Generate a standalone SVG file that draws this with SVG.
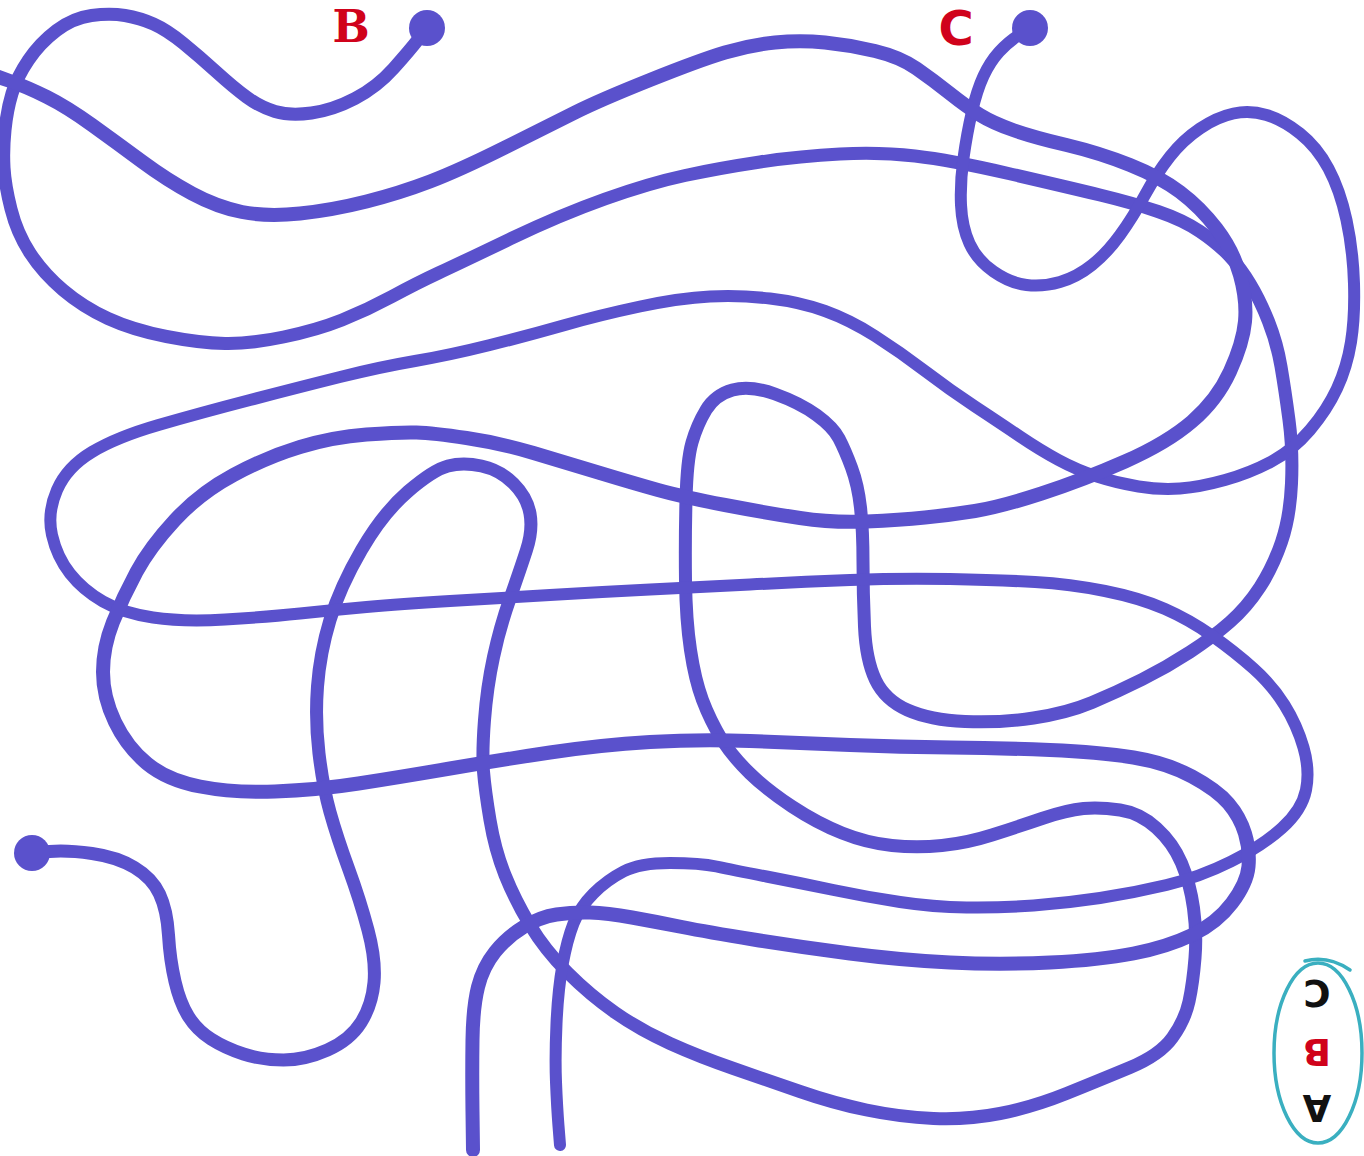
<svg xmlns="http://www.w3.org/2000/svg" width="1364" height="1156" viewBox="0 0 1364 1156">
<style>
.line{fill:none;stroke:#5a51cc;stroke-linecap:round;stroke-linejoin:round}
.dot{fill:#5a51cc}
.lbl{fill:#d0021b;font-weight:bold;text-anchor:middle}
.key{font-family:"DejaVu Sans","Liberation Sans",sans-serif;font-weight:bold;font-size:37px;text-anchor:middle}
</style>
<rect x="0" y="0" width="1364" height="1156" fill="#ffffff"/>
<g id="lines">
<path id="path-B" class="line" stroke-width="13" d="M427,28 L418.5,39 Q410,50 393.5,68.5 Q377,87 355,98.5 Q333,110 311.5,113 Q290,116 275,111.5 Q260,107 246.5,97 Q233,87 216.5,72 Q200,57 183.5,43.5 Q167,30 153.5,24 Q140,18 125,15.5 Q110,13 91.5,15.5 Q73,18 56.5,30.5 Q40,43 28.5,60 Q17,77 12,93.5 Q7,110 5,130 Q3,150 4,167.5 Q5,185 11,209 Q17,233 30,253 Q43,273 63,290 Q83,307 108,318.5 Q133,330 166.5,336.5 Q200,343 225,343.5 Q250,344 283.5,337 Q317,330 342,320 Q367,310 392,296.5 Q417,283 438.5,273 Q460,263 510,239 Q560,215 605,199 Q650,183 685,175.5 Q720,168 760,162 Q800,156 840,154 Q880,152 915,156 Q950,160 1008.5,173.5 Q1067,187 1100,195 Q1133,203 1158,211.5 Q1183,220 1200,231.5 Q1217,243 1228.5,255 Q1240,267 1250,283.5 Q1260,300 1268.5,321.5 Q1277,343 1281,366.5 Q1285,390 1289,420 Q1293,450 1291.5,483.5 Q1290,517 1281.5,542 Q1273,567 1260,587 Q1247,607 1230,622 Q1213,637 1190,652 Q1167,667 1142,679.5 Q1117,692 1092,702.5 Q1067,713 1033.5,718 Q1000,723 965,721.5 Q930,720 907.5,710 Q885,700 875.5,680 Q866,660 864.5,626.5 Q863,593 863,561.5 Q863,530 860.5,507.5 Q858,485 851.5,467.5 Q845,450 839,438.5 Q833,427 816.5,415 Q800,403 775,394 Q750,385 732.5,390 Q715,395 706,410 Q697,425 692,442.5 Q687,460 686,500 Q685,540 685.5,580 Q686,620 690.5,650 Q695,680 702.5,700 Q710,720 722,740 Q733,757 750,773.5 Q767,790 792,806.5 Q817,823 842,833 Q867,843 892,845.5 Q917,848 942,845.5 Q967,843 992,835 Q1017,827 1042,818.5 Q1067,810 1083.5,808.5 Q1100,807 1120,810 Q1140,813 1156.5,828 Q1173,843 1181.5,863 Q1190,883 1193.5,908 Q1197,933 1195,958 Q1193,983 1189,1001.5 Q1185,1020 1172.5,1037.5 Q1160,1055 1130,1067.5 Q1100,1080 1066.5,1093.5 Q1033,1107 1000,1113.5 Q967,1120 933.5,1118.5 Q900,1117 866.5,1110 Q833,1103 800,1091.5 Q767,1080 733.5,1068.5 Q700,1057 670,1043.5 Q640,1030 615,1012.5 Q590,995 567.5,972.5 Q545,950 530,925 Q515,900 505,875 Q495,850 490,820 Q485,790 483.5,771.5 Q482,753 484.5,720 Q487,687 493.5,657 Q500,627 510,598.5 Q520,570 526.5,550 Q533,530 530,513.5 Q527,497 513.5,483.5 Q500,470 481.5,466 Q463,462 448,466 Q433,470 408,491.5 Q383,513 361.5,550 Q340,587 330,620 Q320,653 317.5,686.5 Q315,720 319,753.5 Q323,787 330,812 Q337,837 348.5,868.5 Q360,900 368,930 Q376,960 374,982.5 Q372,1005 361,1022.5 Q350,1040 327.5,1050 Q305,1060 283.5,1060 Q262,1060 243.5,1054 Q225,1048 211,1039 Q197,1030 188.5,1016.5 Q180,1003 175,981.5 Q170,960 168.5,935 Q167,910 159.5,894 Q152,878 134.5,867.5 Q117,857 92,853.5 Q67,850 49.5,851.5 L32,853"/>
<path id="path-C" class="line" stroke-width="12" d="M1030,28 L1019,35 Q1008,42 999,52 Q990,62 983.5,76 Q977,90 972,111.5 Q967,133 963.5,158 Q960,183 961,205 Q962,227 969.5,243.5 Q977,260 993.5,271.5 Q1010,283 1026.5,285 Q1043,287 1060,282 Q1077,277 1092,265 Q1107,253 1120,235 Q1133,217 1145,195 Q1157,173 1170,156.5 Q1183,140 1200,128.5 Q1217,117 1233.5,113.5 Q1250,110 1266.5,115 Q1283,120 1300,133.5 Q1317,147 1328.5,168.5 Q1340,190 1346.5,220 Q1353,250 1354,283.5 Q1355,317 1351,342 Q1347,367 1337,388.5 Q1327,410 1310,430 Q1293,450 1271.5,461.5 Q1250,473 1225,480 Q1200,487 1180,488.5 Q1160,490 1138.5,486.5 Q1117,483 1097,476.5 Q1077,470 1058.5,460 Q1040,450 1020,436.5 Q1000,423 975,406.5 Q950,390 925,371 Q900,352 875,336 Q850,320 825,311 Q800,302 770,298.5 Q740,295 710,296.5 Q680,298 640,306.5 Q600,315 565,325 Q530,335 490,345 Q450,355 415,361 Q380,367 340,377 Q300,387 250,400 Q200,413 158.5,425 Q117,437 92,452 Q67,467 57,490 Q47,513 52,535 Q57,557 70,573.5 Q83,590 103,601.5 Q123,613 153,617.5 Q183,622 225,619.5 Q267,617 300,613.5 Q333,610 366.5,607 Q400,604 450,601 Q500,598 550,595 Q600,592 650,589.5 Q700,587 750,584.5 Q800,582 850,580 Q900,578 950,579 Q1000,580 1035,582 Q1070,584 1105,591 Q1140,598 1165,609 Q1190,620 1212.5,636 Q1235,652 1253.5,668.5 Q1272,685 1284.5,705 Q1297,725 1303.5,747.5 Q1310,770 1306,790 Q1302,810 1282,828 Q1262,846 1231,861.5 Q1200,877 1166.5,885 Q1133,893 1100,898 Q1067,903 1033.5,905.5 Q1000,908 966.5,907.5 Q933,907 900,902 Q867,897 833.5,890 Q800,883 766.5,876.5 Q733,870 716.5,866.5 Q700,863 670,863 Q640,863 623.5,871.5 Q607,880 593.5,893.5 Q580,907 573.5,923.5 Q567,940 562.5,965 Q558,990 556.5,1023.5 Q555,1057 556,1082 Q557,1107 558.5,1126 L560,1145"/>
<path id="path-D" class="line" stroke-width="14" d="M473,1150 L472.5,1111.5 Q472,1073 472.5,1040 Q473,1007 478,987 Q483,967 495,952 Q507,937 523.5,927 Q540,917 556.5,914.5 Q573,912 590,912.5 Q607,913 632,917.5 Q657,922 682,927 Q707,932 753.5,939.5 Q800,947 850,953.5 Q900,960 950,962.5 Q1000,965 1050,962.5 Q1100,960 1133.5,953.5 Q1167,947 1192,935 Q1217,923 1232,903 Q1247,883 1248.5,866.5 Q1250,850 1245,833.5 Q1240,817 1228.5,803.5 Q1217,790 1192,776.5 Q1167,763 1133.5,757.5 Q1100,752 1050,750 Q1000,748 950,747.5 Q900,747 850,745 Q800,743 750,741 Q700,739 650,742 Q600,745 550,752.5 Q500,760 450,768.5 Q400,777 358.5,783.5 Q317,790 275,791.5 Q233,793 200,786.5 Q167,780 147,763.5 Q127,747 115,722 Q103,697 103,672 Q103,647 113,622 Q123,597 136.5,572 Q150,547 175,520 Q200,493 233.5,475 Q267,457 300,447 Q333,437 366.5,434.5 Q400,432 416.5,432.5 Q433,433 466.5,438 Q500,443 533.5,453 Q567,463 600,473 Q633,483 658,490 Q683,497 725,505 Q767,513 800,518 Q833,523 866.5,521.5 Q900,520 925,517.5 Q950,515 975,511 Q1000,507 1041.5,493.5 Q1083,480 1125,461.5 Q1167,443 1192,421.5 Q1217,400 1230,371.5 Q1243,343 1245,321.5 Q1247,300 1240,275 Q1233,250 1216.5,228.5 Q1200,207 1180,192 Q1160,177 1130,165 Q1100,153 1066.5,145 Q1033,137 1013,130 Q993,123 980,115 Q967,107 950,93.5 Q933,80 916.5,68.5 Q900,57 875,51 Q850,45 825,42.5 Q800,40 775,42.5 Q750,45 725,52.5 Q700,60 650,80 Q600,100 575,112.5 Q550,125 505,147.5 Q460,170 430,181.5 Q400,193 366.5,201.5 Q333,210 300,213.5 Q267,217 242,212 Q217,207 192,193.5 Q167,180 142,161.5 Q117,143 92,125 Q67,107 47,97 Q27,87 8.5,80.5 L-10,74"/>
</g>
<g id="start-B">
<circle class="dot" cx="427" cy="28" r="18"/>
<text class="lbl" x="351" y="42" font-family="'DejaVu Serif','Liberation Serif',serif" font-size="44">B</text>
</g>
<g id="start-C">
<circle class="dot" cx="1030" cy="28" r="18"/>
<text class="lbl" x="956" y="45" font-family="'DejaVu Sans','Liberation Sans',sans-serif" font-size="48">C</text>
</g>
<g id="start-A">
<circle class="dot" cx="32" cy="853" r="18"/>
</g>
<g id="answer-key">
<ellipse cx="1318" cy="1053" rx="44" ry="90" fill="none" stroke="#3aafc0" stroke-width="3.5"/>
<path d="M1305,961 Q1328,955 1350,970" fill="none" stroke="#3aafc0" stroke-width="3.5" stroke-linecap="round"/>
<text class="key" fill="#111111" x="1317" y="1006.5" transform="rotate(180 1317 993)">C</text>
<text class="key" fill="#d0021b" x="1317" y="1065.5" transform="rotate(180 1317 1052)">B</text>
<text class="key" fill="#111111" x="1317" y="1121.5" transform="rotate(180 1317 1108)">A</text>
</g>
</svg>
